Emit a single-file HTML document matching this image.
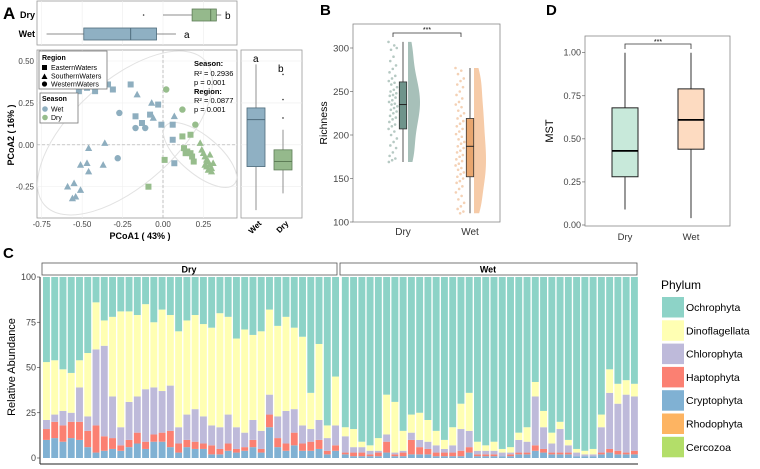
<!DOCTYPE html>
<html><head><meta charset="utf-8">
<style>
html,body{margin:0;padding:0;background:#fff;}
svg{display:block;font-family:"Liberation Sans",Arial,sans-serif;}
</style></head>
<body>
<svg id="fig" width="760" height="469" viewBox="0 0 760 469" xmlns="http://www.w3.org/2000/svg">
<g id="gA"></g>
<g id="gB"></g>
<g id="gC"></g>
<g id="gD"></g>
</svg>
<script>
// ---------- Panel A data ----------
const wetSqX=[-0.51,-0.52,-0.47,-0.42,-0.34,-0.31,-0.20,-0.17,-0.08,-0.13,-0.03,-0.01,0.06,0.06,0.07];
const wetSqY=[0.37,0.32,0.34,0.32,0.36,0.33,0.36,0.17,0.18,0.13,0.24,0.12,0.12,0.03,-0.11];
const wetTrX=[-0.16,-0.07,-0.06,0.07,-0.36,-0.46,-0.51,-0.47,-0.46,-0.37,-0.59,-0.55,-0.51,-0.56,-0.54];
const wetTrY=[0.30,0.25,0.16,0.17,0.01,-0.02,-0.12,-0.11,-0.16,-0.12,-0.25,-0.23,-0.27,-0.32,-0.31];
const wetCiX=[-0.27,-0.17,-0.11,-0.28];
const wetCiY=[0.19,0.10,0.10,-0.08];
const dryCiX=[0.02,0.12,0.20];
const dryCiY=[0.33,0.21,0.12];
const drySqX=[0.12,0.17,0.01,-0.09,0.13,0.15,0.17,0.18,0.14,0.19];
const drySqY=[0.05,0.06,-0.09,-0.25,-0.02,-0.04,-0.05,-0.07,-0.05,-0.10];
const dryTrX=[0.23,0.24,0.25,0.26,0.27,0.28,0.29,0.30,0.28,0.26,0.31,0.29,0.27,0.30];
const dryTrY=[0.01,-0.03,-0.05,-0.07,-0.09,-0.10,-0.12,-0.14,-0.15,-0.12,-0.11,-0.06,-0.13,-0.16];
const topWet=[-0.72,-0.49,-0.20,-0.04,0.08];
const topDry=[0.00,0.18,0.295,0.33,0.36];
const topDryOut=[-0.12];
const rightWet=[-0.39,-0.13,0.15,0.22,0.48];
const rightDry=[-0.29,-0.15,-0.10,-0.03,0.09];
const rightDryOut=[0.16,0.27,0.42];
const aXTicks=[-0.75,-0.50,-0.25,0.00,0.25];
const aYTicks=[0.50,0.25,0.00,-0.25];

// ---------- Panel B data ----------
const bTicks=[100,150,200,250,300];
const dryRich=[307,303,298,300,290,285,280,276,272,268,265,262,260,258,255,252,250,248,246,245,243,240,238,236,235,233,231,229,227,225,222,220,218,215,212,210,207,204,200,196,192,188,185,180,176,173,171,169];
const wetRich=[277,274,270,265,262,258,255,250,246,242,238,235,232,228,225,222,219,216,213,210,207,204,201,198,195,192,190,187,185,182,180,177,175,172,170,167,165,162,160,157,155,152,150,147,145,141,138,134,130,126,122,118,115,112,110];
const bDryBox=[169,207,235,261,307];
const bWetBox=[110,152,187,219,277];

// ---------- Panel C data (cumulative tops per stack, %) ----------
const cryptoCum=[10,11,9,11,10,6,3,4,5,4,6,8,5,9,9,6,3,6,5,5,2,2,4,3,4,6,3,17,6,4,7,4,4,5,2,4,
 2,1,1,1,1,3,1,1,2,2,2,1,1,1,1,3,1,1,1,1,1,2,2,4,3,2,2,2,1,1,1,2,3,2,2,2];
const haptoCum=[16,20,18,20,20,15,18,12,11,7,10,14,9,13,14,15,8,10,9,8,7,5,8,5,6,10,5,24,11,8,14,8,9,10,4,7,
 3,3,3,2,3,9,2,3,10,6,5,3,3,3,4,6,2,2,2,1,2,3,3,7,5,3,3,3,1,1,1,3,5,4,3,4];
const chloroCum=[21,24,26,25,39,23,60,62,34,17,31,34,38,39,37,40,17,24,27,23,18,17,24,17,14,21,15,35,23,26,27,18,16,21,11,18,
 12,6,6,4,4,13,3,4,14,10,9,7,5,7,16,15,4,4,4,3,3,10,9,34,17,8,16,7,3,2,2,17,36,30,35,34];
const dinoCum=[53,54,49,47,54,58,86,76,78,81,81,79,85,75,82,79,70,76,79,74,72,80,78,66,71,68,70,82,73,78,72,67,36,63,18,45,
 17,16,9,7,11,35,31,15,24,25,21,15,10,17,30,36,9,7,9,5,6,14,17,42,26,14,20,10,5,4,5,24,49,41,43,41];
const cTicks=[0,25,50,75,100];
const phyla=["Ochrophyta","Dinoflagellata","Chlorophyta","Haptophyta","Cryptophyta","Rhodophyta","Cercozoa"];
const dryCount=36;

// ---------- Panel D data ----------
const dTicks=[0.00,0.25,0.50,0.75,1.00];
const dDryBox=[0.09,0.28,0.43,0.68,1.00];
const dWetBox=[0.04,0.44,0.61,0.79,1.00];

const NS="http://www.w3.org/2000/svg";
function mk(parent,tag,attrs,txt){const e=document.createElementNS(NS,tag);for(const k in attrs)e.setAttribute(k,attrs[k]);if(txt!==undefined)e.textContent=txt;parent.appendChild(e);return e;}

// ===================== PANEL A =====================
const gA=document.getElementById('gA');
const ax=v=>163+v*161.7, ay=v=>144.8-v*167.6;
let t=mk(gA,'text',{x:3,y:19,'font-size':17,'font-weight':'bold'},'A');

let r=mk(gA,'rect',{x:37,y:1,width:200,height:44,fill:'#fff',stroke:'#999','stroke-width':0.8});

aXTicks.forEach(v=>{mk(gA,'line',{x1:ax(v),x2:ax(v),y1:1,y2:45,stroke:'#eee','stroke-width':0.6});});
function hbox(vals,yc,fill,stroke,name){const g=mk(gA,'g',{});
 mk(g,'line',{x1:ax(vals[0]),x2:ax(vals[1]),y1:yc,y2:yc,stroke:'#666','stroke-width':0.8});
 mk(g,'line',{x1:ax(vals[3]),x2:ax(vals[4]),y1:yc,y2:yc,stroke:'#666','stroke-width':0.8});
 mk(g,'rect',{x:ax(vals[1]),y:yc-6,width:ax(vals[3])-ax(vals[1]),height:12,fill:fill,stroke:stroke,'stroke-width':0.8});
 mk(g,'line',{x1:ax(vals[2]),x2:ax(vals[2]),y1:yc-6,y2:yc+6,stroke:stroke,'stroke-width':1});}
hbox(topDry,15,'#95b98c','#5e7d57','top-box-dry');
hbox(topWet,34,'#8fb0c3','#4f6c7c','top-box-wet');
topDryOut.forEach(v=>{const c=mk(gA,'circle',{cx:ax(v),cy:15,r:0.8,fill:'#333'});});
t=mk(gA,'text',{x:35,y:18,'font-size':9,'font-weight':'bold','text-anchor':'end'},'Dry');
t=mk(gA,'text',{x:35,y:37,'font-size':9,'font-weight':'bold','text-anchor':'end'},'Wet');
t=mk(gA,'text',{x:225,y:19,'font-size':10},'b');
t=mk(gA,'text',{x:184,y:38,'font-size':10},'a');
r=mk(gA,'rect',{x:37,y:50,width:200,height:168,fill:'#fff',stroke:'#999','stroke-width':0.8});

aXTicks.forEach(v=>{mk(gA,'line',{x1:ax(v),x2:ax(v),y1:50,y2:218,stroke:'#f0f0f0','stroke-width':0.6});
 t=mk(gA,'text',{x:ax(v),y:227,'font-size':8,fill:'#444','text-anchor':'middle'},v.toFixed(2));});
aYTicks.forEach(v=>{mk(gA,'line',{x1:37,x2:237,y1:ay(v),y2:ay(v),stroke:'#f0f0f0','stroke-width':0.6});
 t=mk(gA,'text',{x:34,y:ay(v)+3,'font-size':8,fill:'#444','text-anchor':'end'},v.toFixed(2));});
mk(gA,'line',{x1:ax(0),x2:ax(0),y1:50,y2:218,stroke:'#aaa','stroke-width':0.7,'stroke-dasharray':'3,2'});
mk(gA,'line',{x1:37,x2:237,y1:ay(0),y2:ay(0),stroke:'#aaa','stroke-width':0.7,'stroke-dasharray':'3,2'});
let el=mk(gA,'ellipse',{cx:125,cy:133,rx:108,ry:52,fill:'none',stroke:'#e2e2e2','stroke-width':1,transform:'rotate(-42 125 133)'});

el=mk(gA,'ellipse',{cx:200,cy:155,rx:45,ry:19,fill:'none',stroke:'#e2e2e2','stroke-width':1,transform:'rotate(40 200 155)'});

const WC='#8eaebf', DC='#97bd8c';
function pts(xs,ys,shape,col,name){xs.forEach((x,i)=>{const px=ax(x),py=ay(ys[i]);let e;
 if(shape==='sq')e=mk(gA,'rect',{x:px-3,y:py-3,width:6,height:6,fill:col});
 else if(shape==='tr')e=mk(gA,'polygon',{points:`${px},${py-3.8} ${px-3.6},${py+2.8} ${px+3.6},${py+2.8}`,fill:col});
 else e=mk(gA,'circle',{cx:px,cy:py,r:3.2,fill:col});
 });}
pts(wetSqX,wetSqY,'sq',WC,'point-wet-eastern');pts(wetTrX,wetTrY,'tr',WC,'point-wet-southern');pts(wetCiX,wetCiY,'ci',WC,'point-wet-western');
pts(drySqX,drySqY,'sq',DC,'point-dry-eastern');pts(dryTrX,dryTrY,'tr',DC,'point-dry-southern');pts(dryCiX,dryCiY,'ci',DC,'point-dry-western');
let lg=mk(gA,'g',{});
mk(lg,'rect',{x:39,y:51,width:68,height:38,fill:'#fff',stroke:'#777','stroke-width':0.8});
mk(lg,'text',{x:42,y:60,'font-size':7,'font-weight':'bold'},'Region');
mk(lg,'rect',{x:42,y:65,width:5,height:5,fill:'#000'});mk(lg,'text',{x:51,y:70,'font-size':7},'EasternWaters');
mk(lg,'polygon',{points:'44.5,73.5 41.5,79 47.5,79',fill:'#000'});mk(lg,'text',{x:51,y:78.5,'font-size':7},'SouthernWaters');
mk(lg,'circle',{cx:44.5,cy:84,r:2.6,fill:'#000'});mk(lg,'text',{x:51,y:86.5,'font-size':7},'WesternWaters');
lg=mk(gA,'g',{});
mk(lg,'rect',{x:40,y:93,width:38,height:30,fill:'#fff',stroke:'#777','stroke-width':0.8});
mk(lg,'text',{x:42,y:101,'font-size':7,'font-weight':'bold'},'Season');
mk(lg,'circle',{cx:45,cy:109,r:2.8,fill:WC});mk(lg,'text',{x:51,y:111.5,'font-size':7},'Wet');
mk(lg,'circle',{cx:45,cy:117.5,r:2.8,fill:DC});mk(lg,'text',{x:51,y:120,'font-size':7},'Dry');
let st=mk(gA,'g',{'font-size':7.5});
mk(st,'text',{x:194,y:66,'font-weight':'bold'},'Season:');
mk(st,'text',{x:194,y:76},'R² = 0.2936');
mk(st,'text',{x:194,y:85},'p = 0.001');
mk(st,'text',{x:194,y:94,'font-weight':'bold'},'Region:');
mk(st,'text',{x:194,y:103},'R² = 0.0877');
mk(st,'text',{x:194,y:112},'p = 0.001');
t=mk(gA,'text',{x:140,y:239,'font-size':9,'font-weight':'bold','text-anchor':'middle'},'PCoA1 ( 43% )');
t=mk(gA,'text',{x:0,y:0,'font-size':9,'font-weight':'bold','text-anchor':'middle',transform:'translate(14,135) rotate(-90)'},'PCoA2 ( 16% )');
r=mk(gA,'rect',{x:241,y:50,width:61,height:168,fill:'#fff',stroke:'#999','stroke-width':0.8});

aYTicks.forEach(v=>{mk(gA,'line',{x1:241,x2:302,y1:ay(v),y2:ay(v),stroke:'#eee','stroke-width':0.6});});
function vbox(vals,xc,fill,stroke,name){const g=mk(gA,'g',{});
 mk(g,'line',{x1:xc,x2:xc,y1:ay(vals[0]),y2:ay(vals[4]),stroke:'#777','stroke-width':0.8});
 mk(g,'rect',{x:xc-9,y:ay(vals[3]),width:18,height:ay(vals[1])-ay(vals[3]),fill:fill,stroke:stroke,'stroke-width':0.8});
 mk(g,'line',{x1:xc-9,x2:xc+9,y1:ay(vals[2]),y2:ay(vals[2]),stroke:stroke,'stroke-width':1});}
vbox(rightWet,256,'#8fb0c3','#4f6c7c','right-box-wet');
vbox(rightDry,283,'#95b98c','#5e7d57','right-box-dry');
rightDryOut.forEach(v=>{const c=mk(gA,'circle',{cx:283,cy:ay(v),r:0.8,fill:'#333'});});
t=mk(gA,'text',{x:253,y:62,'font-size':10},'a');
t=mk(gA,'text',{x:278,y:72,'font-size':10},'b');
t=mk(gA,'text',{x:0,y:0,'font-size':8,'font-weight':'bold','text-anchor':'end',transform:'translate(262,224) rotate(-45)'},'Wet');
t=mk(gA,'text',{x:0,y:0,'font-size':8,'font-weight':'bold','text-anchor':'end',transform:'translate(289,224) rotate(-45)'},'Dry');

// ===================== PANEL B =====================
const gB=document.getElementById('gB');
const by=v=>48+(300-v)*0.87;
t=mk(gB,'text',{x:320,y:15,'font-size':15,'font-weight':'bold'},'B');
r=mk(gB,'rect',{x:353,y:24,width:147,height:198,fill:'#fff',stroke:'#888','stroke-width':0.8});
bTicks.forEach(v=>{mk(gB,'line',{x1:350,x2:353,y1:by(v),y2:by(v),stroke:'#555','stroke-width':0.6});
 t=mk(gB,'text',{x:349,y:by(v)+3.5,'font-size':9.5,fill:'#444','text-anchor':'end'},String(v));});
function halfViolin(vals,x0,col,name){const mn=Math.min(...vals),mx=Math.max(...vals),bw=14;const dens=[];
 for(let k=0;k<=40;k++){const v=mn+(mx-mn)*k/40;let s=0;vals.forEach(u=>{s+=Math.exp(-0.5*((v-u)/bw)**2);});dens.push([v,s]);}
 const dm=Math.max(...dens.map(d=>d[1]));let d=`M${x0},${by(mn)}`;dens.forEach(p=>{d+=` L${x0+p[1]/dm*12},${by(p[0])}`;});d+=` L${x0},${by(mx)} Z`;
 const p=mk(gB,'path',{d:d,fill:col});}
halfViolin(dryRich,408,'#a7c0b9','violin-dry');
halfViolin(wetRich,474,'#f6cba8','violin-wet');
function jit(vals,x0,col,name){vals.forEach((v,i)=>{const off=((i*7919)%97)/97*9-4.5;const c=mk(gB,'circle',{cx:x0+off,cy:by(v),r:1.3,fill:col,opacity:0.85});});}
jit(dryRich,393,'#a9bfb9','jitter-point-dry');
jit(wetRich,460,'#f2c9a8','jitter-point-wet');
function bbox(vals,xc,fill,name){const g=mk(gB,'g',{});
 mk(g,'line',{x1:xc,x2:xc,y1:by(vals[0]),y2:by(vals[4]),stroke:'#555','stroke-width':1});
 mk(g,'rect',{x:xc-3.7,y:by(vals[3]),width:7.4,height:by(vals[1])-by(vals[3]),fill:fill,stroke:'#333','stroke-width':0.8});
 mk(g,'line',{x1:xc-3.7,x2:xc+3.7,y1:by(vals[2]),y2:by(vals[2]),stroke:'#222','stroke-width':1});}
bbox(bDryBox,403,'#6f948b','box-dry');
bbox(bWetBox,470,'#e8a66f','box-wet');
let br=mk(gB,'path',{d:'M393,37 L393,33 L461,33 L461,37',fill:'none',stroke:'#333','stroke-width':0.8});
t=mk(gB,'text',{x:427,y:32,'font-size':7,'text-anchor':'middle'},'***');
t=mk(gB,'text',{x:403,y:235,'font-size':10,fill:'#333','text-anchor':'middle'},'Dry');
t=mk(gB,'text',{x:470,y:235,'font-size':10,fill:'#333','text-anchor':'middle'},'Wet');
t=mk(gB,'text',{x:0,y:0,'font-size':10.5,'text-anchor':'middle',transform:'translate(327,123) rotate(-90)'},'Richness');

// ===================== PANEL D =====================
const gD=document.getElementById('gD');
const dy=v=>225-v*172.3;
t=mk(gD,'text',{x:546,y:15,'font-size':15,'font-weight':'bold'},'D');
r=mk(gD,'rect',{x:585,y:36,width:145,height:190,fill:'#fff',stroke:'#888','stroke-width':0.8});
dTicks.forEach(v=>{mk(gD,'line',{x1:582,x2:585,y1:dy(v),y2:dy(v),stroke:'#555','stroke-width':0.6});
 t=mk(gD,'text',{x:581,y:dy(v)+3,'font-size':9,fill:'#444','text-anchor':'end'},v.toFixed(2));});
function dbox(vals,xc,fill,name){const g=mk(gD,'g',{});
 mk(g,'line',{x1:xc,x2:xc,y1:dy(vals[0]),y2:dy(vals[4]),stroke:'#555','stroke-width':1.2});
 mk(g,'rect',{x:xc-13,y:dy(vals[3]),width:26,height:dy(vals[1])-dy(vals[3]),fill:fill,stroke:'#222','stroke-width':1});
 mk(g,'line',{x1:xc-13,x2:xc+13,y1:dy(vals[2]),y2:dy(vals[2]),stroke:'#000','stroke-width':1.8});}
dbox(dDryBox,625,'#c8e9da','mst-box-dry');
dbox(dWetBox,691,'#fddbc1','mst-box-wet');
br=mk(gD,'path',{d:'M625,49 L625,44 L691,44 L691,49',fill:'none',stroke:'#333','stroke-width':0.8});
t=mk(gD,'text',{x:658,y:44,'font-size':7,'text-anchor':'middle'},'***');
t=mk(gD,'text',{x:625,y:240,'font-size':9.5,fill:'#333','text-anchor':'middle'},'Dry');
t=mk(gD,'text',{x:691,y:240,'font-size':9.5,fill:'#333','text-anchor':'middle'},'Wet');
t=mk(gD,'text',{x:0,y:0,'font-size':11,'text-anchor':'middle',transform:'translate(553,131) rotate(-90)'},'MST');

// ===================== PANEL C =====================
const gC=document.getElementById('gC');
const cy=v=>458-v*1.81;
const colors={Ochrophyta:'#8dd3c7',Dinoflagellata:'#ffffb3',Chlorophyta:'#bebada',Haptophyta:'#fb8072',Cryptophyta:'#80b1d3',Rhodophyta:'#fdb462',Cercozoa:'#b3de69'};
t=mk(gC,'text',{x:3,y:258,'font-size':15,'font-weight':'bold'},'C');
let sd=mk(gC,'rect',{x:42,y:263,width:295,height:12,fill:'#fff',stroke:'#555','stroke-width':0.8});
t=mk(gC,'text',{x:189,y:272.5,'font-size':9,'font-weight':'bold','text-anchor':'middle'},'Dry');
sd=mk(gC,'rect',{x:340,y:263,width:297,height:12,fill:'#fff',stroke:'#555','stroke-width':0.8});
t=mk(gC,'text',{x:488,y:272.5,'font-size':9,'font-weight':'bold','text-anchor':'middle'},'Wet');
const step=8.26, bw=6.9;
cryptoCum.forEach((c,i)=>{const x=(i<dryCount?43:44.5)+i*step;
 const segs=[[0,c,'Cryptophyta'],[c,haptoCum[i],'Haptophyta'],[haptoCum[i],chloroCum[i],'Chlorophyta'],[chloroCum[i],dinoCum[i],'Dinoflagellata'],[dinoCum[i],100,'Ochrophyta']];
 segs.forEach(s=>{if(s[1]<=s[0])return;const b=mk(gC,'rect',{x:x,y:cy(s[1]),width:bw,height:cy(s[0])-cy(s[1]),fill:colors[s[2]]});
  
  });});
mk(gC,'line',{x1:40,x2:40,y1:277,y2:464,stroke:'#222','stroke-width':1});
mk(gC,'line',{x1:40,x2:638,y1:464,y2:464,stroke:'#222','stroke-width':1});
cTicks.forEach(v=>{mk(gC,'line',{x1:37,x2:40,y1:cy(v),y2:cy(v),stroke:'#333','stroke-width':0.6});
 t=mk(gC,'text',{x:36,y:cy(v)+3,'font-size':9,fill:'#444','text-anchor':'end'},String(v));});
t=mk(gC,'text',{x:0,y:0,'font-size':11,'text-anchor':'middle',transform:'translate(15,367) rotate(-90)'},'Relative Abundance');
lg=mk(gC,'g',{});
mk(lg,'text',{x:661,y:289,'font-size':12},'Phylum');
phyla.forEach((p,k)=>{const y=297+k*23.3;const sw=mk(lg,'rect',{x:662,y:y,width:22,height:20.5,fill:colors[p]});
 
 const tx=mk(lg,'text',{x:686,y:y+14,'font-size':10.5},p);});
</script>
</body></html>
